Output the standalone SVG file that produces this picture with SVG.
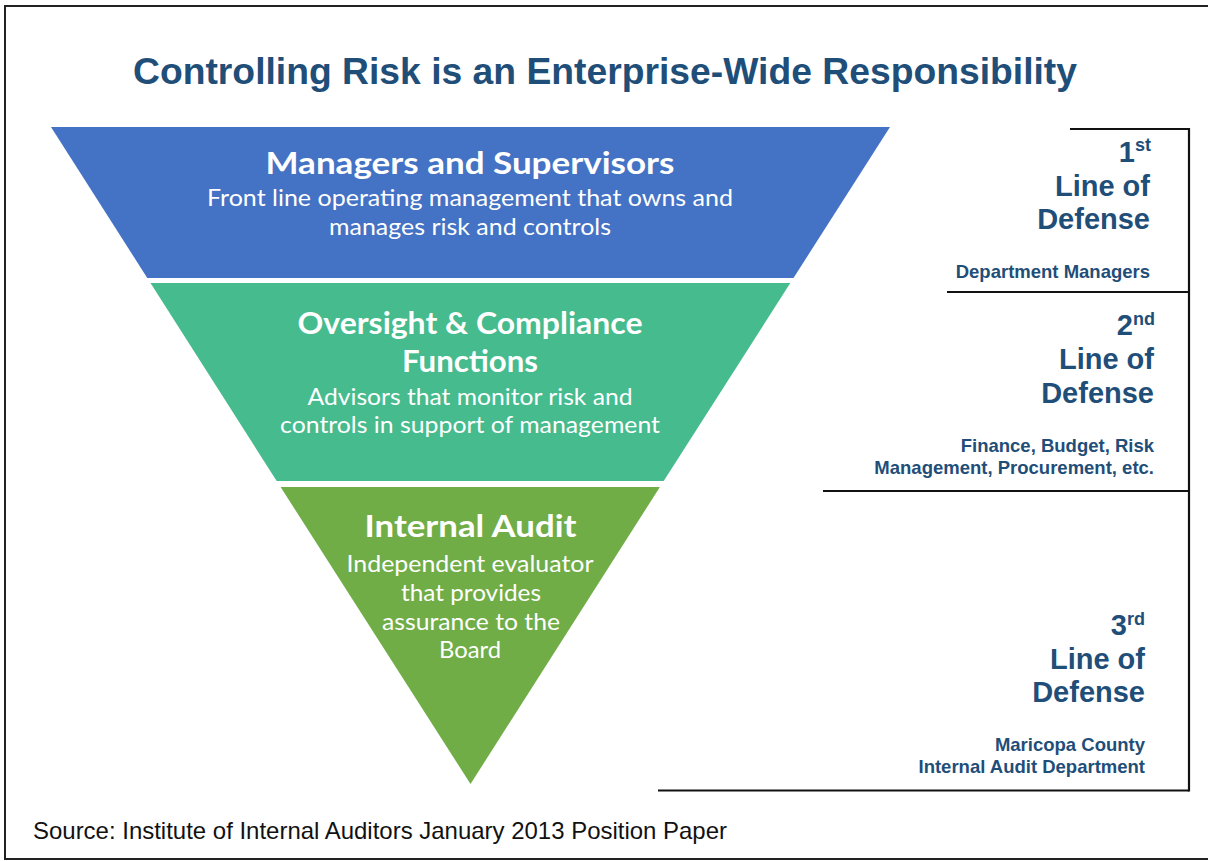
<svg xmlns="http://www.w3.org/2000/svg" width="1208" height="861" viewBox="0 0 1208 861">
  <style>
    .frame { fill: #ffffff; stroke: #222222; stroke-width: 2; }
    .rule { stroke: #111111; stroke-width: 2.2; fill: none; }
    .head { font-family: "Liberation Sans", Arial, sans-serif; font-weight: bold; fill: #1F4E79; }
    .tierT { font-family: Lato, "Open Sans", sans-serif; font-weight: bold; font-size: 30px; fill: #ffffff; text-anchor: middle; }
    .tierS { font-family: Lato, "Open Sans", sans-serif; font-size: 23.5px; fill: #ffffff; text-anchor: middle; }
    .lod { font-family: "Liberation Sans", Arial, sans-serif; font-weight: bold; font-size: 29px; fill: #1F4E79; text-anchor: end; }
    .sup { font-size: 18px; }
    .who { font-family: "Liberation Sans", Arial, sans-serif; font-weight: bold; font-size: 18.5px; fill: #1F4E79; text-anchor: end; }
    .src { font-family: "Liberation Sans", Arial, sans-serif; font-size: 24px; fill: #111111; }
  </style>

  <!-- page frame -->
  <rect class="frame" x="5" y="6" width="1212" height="853"/>

  <text class="head" x="605" y="84" font-size="37" text-anchor="middle" textLength="944" lengthAdjust="spacingAndGlyphs">Controlling Risk is an Enterprise-Wide Responsibility</text>

  <!-- inverted pyramid, three slices -->
  <g id="tier-managers">
    <polygon points="51,127 890,127 793.5,278 147.3,278" fill="#4472C4"/>
    <text class="tierT" x="470" y="174" textLength="409" lengthAdjust="spacingAndGlyphs">Managers and Supervisors</text>
    <text class="tierS" x="470" y="206" textLength="526" lengthAdjust="spacingAndGlyphs">Front line operating management that owns and</text>
    <text class="tierS" x="470" y="235" textLength="282" lengthAdjust="spacingAndGlyphs">manages risk and controls</text>
  </g>

  <g id="tier-oversight">
    <polygon points="150.5,283 790.3,283 663.7,481 276.7,481" fill="#45BB8E"/>
    <text class="tierT" x="470" y="334" textLength="345" lengthAdjust="spacingAndGlyphs">Oversight &amp; Compliance</text>
    <text class="tierT" x="470" y="372" textLength="136" lengthAdjust="spacingAndGlyphs">Functions</text>
    <text class="tierS" x="470" y="405" textLength="325" lengthAdjust="spacingAndGlyphs">Advisors that monitor risk and</text>
    <text class="tierS" x="470" y="433" textLength="380" lengthAdjust="spacingAndGlyphs">controls in support of management</text>
  </g>

  <g id="tier-audit">
    <polygon points="280.6,487 659.9,487 470.5,784" fill="#70AD47"/>
    <text class="tierT" x="470.5" y="537" textLength="212" lengthAdjust="spacingAndGlyphs">Internal Audit</text>
    <text class="tierS" x="470" y="572" textLength="247" lengthAdjust="spacingAndGlyphs">Independent evaluator</text>
    <text class="tierS" x="471" y="601" textLength="140" lengthAdjust="spacingAndGlyphs">that provides</text>
    <text class="tierS" x="471" y="630" textLength="178" lengthAdjust="spacingAndGlyphs">assurance to the</text>
    <text class="tierS" x="470" y="658" textLength="62" lengthAdjust="spacingAndGlyphs">Board</text>
  </g>

  <!-- bracket rules separating the lines of defense -->
  <g id="connectors">
    <line class="rule" x1="1070" y1="129" x2="1189" y2="129"/>
    <line class="rule" x1="1189" y1="128" x2="1189" y2="791.5"/>
    <line class="rule" x1="947" y1="292" x2="1189" y2="292"/>
    <line class="rule" x1="823" y1="491" x2="1189" y2="491"/>
    <line class="rule" x1="658" y1="790.5" x2="1189" y2="790.5"/>
  </g>

  <g id="line-1">
    <text class="lod" x="1151" y="162">1<tspan class="sup" dy="-11">st</tspan></text>
    <text class="lod" x="1150" y="196">Line of</text>
    <text class="lod" x="1150" y="229">Defense</text>
    <text class="who" x="1150" y="277.5">Department Managers</text>
  </g>

  <g id="line-2">
    <text class="lod" x="1155" y="335">2<tspan class="sup" dy="-10">nd</tspan></text>
    <text class="lod" x="1154" y="369">Line of</text>
    <text class="lod" x="1154" y="403">Defense</text>
    <text class="who" x="1154" y="451.5">Finance, Budget, Risk</text>
    <text class="who" x="1154" y="473.5">Management, Procurement, etc.</text>
  </g>

  <g id="line-3">
    <text class="lod" x="1145" y="634.5">3<tspan class="sup" dy="-10">rd</tspan></text>
    <text class="lod" x="1145" y="669">Line of</text>
    <text class="lod" x="1145" y="702">Defense</text>
    <text class="who" x="1145" y="751">Maricopa County</text>
    <text class="who" x="1145" y="772.5">Internal Audit Department</text>
  </g>

  <text class="src" x="33" y="839" textLength="694" lengthAdjust="spacingAndGlyphs">Source: Institute of Internal Auditors January 2013 Position Paper</text>
</svg>
